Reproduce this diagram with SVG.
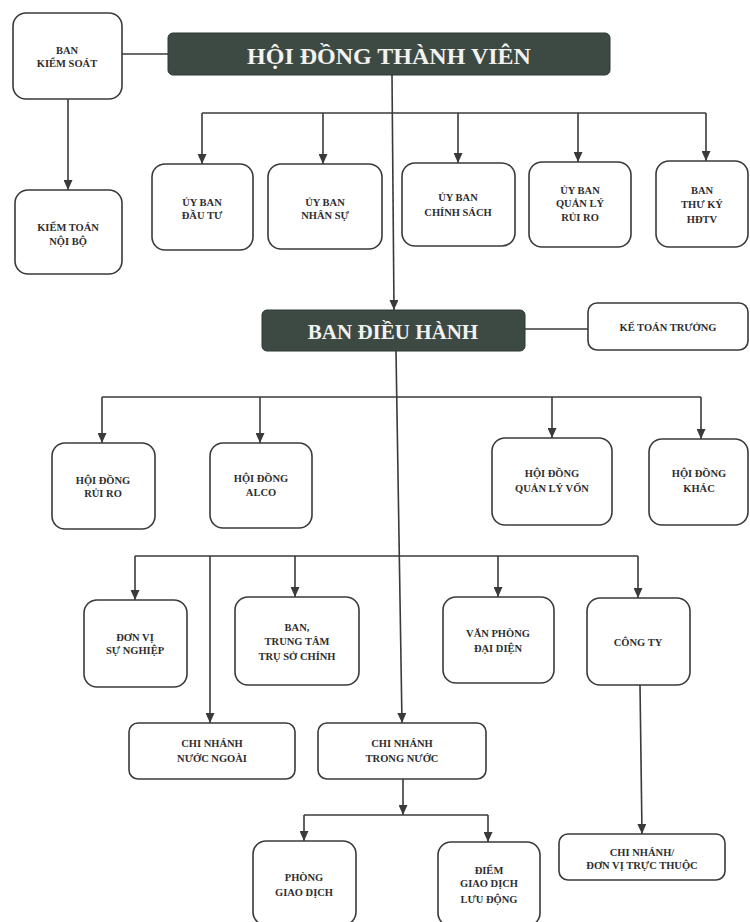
<svg xmlns="http://www.w3.org/2000/svg" width="750" height="922" viewBox="0 0 750 922">
<defs>
<marker id="arr" markerUnits="userSpaceOnUse" markerWidth="10" markerHeight="9" viewBox="0 0 10 9" refX="10" refY="4.5" orient="auto">
<path d="M0,0 L10,4.5 L0,9 Z" fill="#3a3a3a"/>
</marker>
</defs>
<style>
.box{fill:#ffffff;stroke:#3a3a3a;stroke-width:1.6}
.hdr{fill:#3d4943;stroke:#2e3833;stroke-width:1}
.t{font-family:"Liberation Serif","Times New Roman",serif;font-weight:bold;font-size:10.5px;fill:#2e2e2e;text-anchor:middle}
.ht{font-family:"Liberation Serif","Times New Roman",serif;font-weight:bold;fill:#f2f2f0;text-anchor:middle}
.c{fill:none;stroke:#3a3a3a;stroke-width:1.6}
.a{fill:none;stroke:#3a3a3a;stroke-width:1.6;marker-end:url(#arr)}
</style>
<rect width="750" height="922" fill="#ffffff"/>
<g id="connectors">
<line class="c" x1="122" y1="54" x2="168" y2="54"/>
<line class="a" x1="68" y1="99" x2="68" y2="190"/>
<line class="a" x1="392" y1="75" x2="394" y2="310"/>
<line class="c" x1="202" y1="113" x2="706" y2="113"/>
<line class="a" x1="202" y1="113" x2="202" y2="164"/>
<line class="a" x1="323" y1="113" x2="323" y2="164"/>
<line class="a" x1="458" y1="113" x2="458" y2="163"/>
<line class="a" x1="578" y1="113" x2="578" y2="162"/>
<line class="a" x1="706" y1="113" x2="706" y2="161"/>
<line class="c" x1="525" y1="329" x2="588" y2="329"/>
<line class="a" x1="396" y1="351" x2="402" y2="723"/>
<line class="c" x1="102" y1="397" x2="701" y2="397"/>
<line class="a" x1="102" y1="397" x2="102" y2="443"/>
<line class="a" x1="260" y1="397" x2="260" y2="443"/>
<line class="a" x1="552" y1="397" x2="552" y2="438"/>
<line class="a" x1="701" y1="397" x2="701" y2="439"/>
<line class="c" x1="135" y1="556" x2="638" y2="556"/>
<line class="a" x1="135" y1="556" x2="135" y2="600"/>
<line class="a" x1="210" y1="556" x2="210" y2="723"/>
<line class="a" x1="295" y1="556" x2="295" y2="597"/>
<line class="a" x1="498" y1="556" x2="498" y2="597"/>
<line class="a" x1="638" y1="556" x2="638" y2="598"/>
<line class="a" x1="640" y1="685" x2="642" y2="834"/>
<line class="a" x1="403" y1="779" x2="403" y2="815"/>
<line class="c" x1="304" y1="815" x2="488" y2="815"/>
<line class="a" x1="304" y1="815" x2="304" y2="841"/>
<line class="a" x1="488" y1="815" x2="488" y2="842"/>
</g>
<g id="ban-kiem-soat">
<rect class="box" x="13" y="13" width="109" height="86" rx="13"/>
<text class="t" x="67" y="54">BAN</text>
<text class="t" x="67" y="67">KIỂM SOÁT</text>
</g>
<g id="hoi-dong-thanh-vien">
<rect class="hdr" x="168" y="33" width="442" height="42" rx="5"/>
<text class="ht" x="389" y="64" font-size="24">HỘI ĐỒNG THÀNH VIÊN</text>
</g>
<g id="kiem-toan-noi-bo">
<rect class="box" x="15" y="190" width="107" height="84" rx="13"/>
<text class="t" x="68" y="231">KIỂM TOÁN</text>
<text class="t" x="68" y="245">NỘI BỘ</text>
</g>
<g id="uy-ban-dau-tu">
<rect class="box" x="152" y="164" width="101" height="86" rx="13"/>
<text class="t" x="202" y="206">ỦY BAN</text>
<text class="t" x="202" y="219">ĐẦU TƯ</text>
</g>
<g id="uy-ban-nhan-su">
<rect class="box" x="268" y="164" width="114" height="85" rx="13"/>
<text class="t" x="325" y="206">ỦY BAN</text>
<text class="t" x="325" y="219">NHÂN SỰ</text>
</g>
<g id="uy-ban-chinh-sach">
<rect class="box" x="402" y="163" width="113" height="83" rx="13"/>
<text class="t" x="458" y="201">ỦY BAN</text>
<text class="t" x="458" y="216">CHÍNH SÁCH</text>
</g>
<g id="uy-ban-quan-ly-rui-ro">
<rect class="box" x="529" y="162" width="102" height="85" rx="13"/>
<text class="t" x="580" y="194">ỦY BAN</text>
<text class="t" x="580" y="207">QUẢN LÝ</text>
<text class="t" x="580" y="221">RỦI RO</text>
</g>
<g id="ban-thu-ky-hdtv">
<rect class="box" x="656" y="161" width="92" height="86" rx="13"/>
<text class="t" x="702" y="194">BAN</text>
<text class="t" x="702" y="208">THƯ KÝ</text>
<text class="t" x="702" y="223">HĐTV</text>
</g>
<g id="ban-dieu-hanh">
<rect class="hdr" x="262" y="310" width="263" height="41" rx="5"/>
<text class="ht" x="393" y="339" font-size="21">BAN ĐIỀU HÀNH</text>
</g>
<g id="ke-toan-truong">
<rect class="box" x="588" y="303" width="160" height="47" rx="9"/>
<text class="t" x="668" y="331">KẾ TOÁN TRƯỞNG</text>
</g>
<g id="hoi-dong-rui-ro">
<rect class="box" x="52" y="443" width="103" height="86" rx="13"/>
<text class="t" x="103" y="484">HỘI ĐỒNG</text>
<text class="t" x="103" y="497">RỦI RO</text>
</g>
<g id="hoi-dong-alco">
<rect class="box" x="210" y="443" width="102" height="85" rx="13"/>
<text class="t" x="261" y="482">HỘI ĐỒNG</text>
<text class="t" x="261" y="496">ALCO</text>
</g>
<g id="hoi-dong-quan-ly-von">
<rect class="box" x="492" y="438" width="120" height="87" rx="13"/>
<text class="t" x="552" y="477">HỘI ĐỒNG</text>
<text class="t" x="552" y="492">QUẢN LÝ VỐN</text>
</g>
<g id="hoi-dong-khac">
<rect class="box" x="649" y="439" width="99" height="86" rx="13"/>
<text class="t" x="699" y="477">HỘI ĐỒNG</text>
<text class="t" x="699" y="492">KHÁC</text>
</g>
<g id="don-vi-su-nghiep">
<rect class="box" x="84" y="600" width="103" height="87" rx="13"/>
<text class="t" x="135" y="641">ĐƠN VỊ</text>
<text class="t" x="135" y="654">SỰ NGHIỆP</text>
</g>
<g id="ban-trung-tam">
<rect class="box" x="235" y="597" width="124" height="88" rx="13"/>
<text class="t" x="297" y="631">BAN,</text>
<text class="t" x="297" y="645">TRUNG TÂM</text>
<text class="t" x="297" y="660">TRỤ SỞ CHÍNH</text>
</g>
<g id="van-phong-dai-dien">
<rect class="box" x="443" y="597" width="111" height="86" rx="13"/>
<text class="t" x="498" y="637">VĂN PHÒNG</text>
<text class="t" x="498" y="652">ĐẠI DIỆN</text>
</g>
<g id="cong-ty">
<rect class="box" x="587" y="598" width="103" height="87" rx="13"/>
<text class="t" x="638" y="646">CÔNG TY</text>
</g>
<g id="chi-nhanh-nuoc-ngoai">
<rect class="box" x="129" y="723" width="166" height="56" rx="9"/>
<text class="t" x="212" y="747">CHI NHÁNH</text>
<text class="t" x="212" y="762">NƯỚC NGOÀI</text>
</g>
<g id="chi-nhanh-trong-nuoc">
<rect class="box" x="318" y="723" width="168" height="56" rx="9"/>
<text class="t" x="402" y="747">CHI NHÁNH</text>
<text class="t" x="402" y="762">TRONG NƯỚC</text>
</g>
<g id="phong-giao-dich">
<rect class="box" x="253" y="841" width="103" height="84" rx="13"/>
<text class="t" x="304" y="881">PHÒNG</text>
<text class="t" x="304" y="896">GIAO DỊCH</text>
</g>
<g id="diem-giao-dich-luu-dong">
<rect class="box" x="438" y="842" width="102" height="84" rx="13"/>
<text class="t" x="489" y="874">ĐIỂM</text>
<text class="t" x="489" y="887">GIAO DỊCH</text>
<text class="t" x="489" y="903">LƯU ĐỘNG</text>
</g>
<g id="chi-nhanh-don-vi-truc-thuoc">
<rect class="box" x="559" y="834" width="166" height="46" rx="9"/>
<text class="t" x="642" y="856">CHI NHÁNH/</text>
<text class="t" x="642" y="869">ĐƠN VỊ TRỰC THUỘC</text>
</g>
</svg>
